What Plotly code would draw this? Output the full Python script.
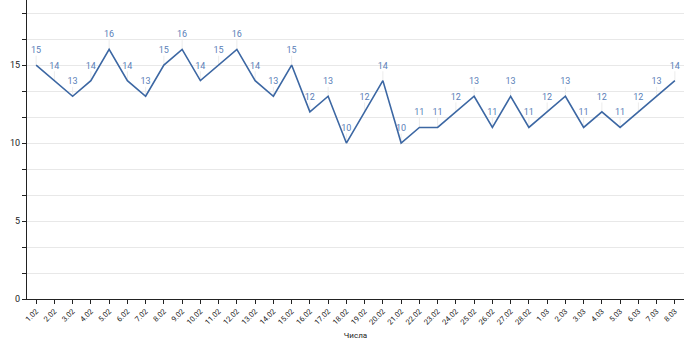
import plotly.graph_objects as go

dates = ["1.02", "2.02", "3.02", "4.02", "5.02", "6.02", "7.02", "8.02", "9.02", "10.02",
         "11.02", "12.02", "13.02", "14.02", "15.02", "16.02", "17.02", "18.02", "19.02", "20.02",
         "21.02", "22.02", "23.02", "24.02", "25.02", "26.02", "27.02", "28.02",
         "1.03", "2.03", "3.03", "4.03", "5.03", "6.03", "7.03", "8.03"]
values = [15, 14, 13, 14, 16, 14, 13, 15, 16, 14,
          15, 16, 14, 13, 15, 12, 13, 10, 12, 14,
          10, 11, 11, 12, 13, 11, 13, 11,
          12, 13, 11, 12, 11, 12, 13, 14]

y_step = 5 / 3
y_ticks = [i * y_step for i in range(12)]
y_text = [str(round(v)) if i % 3 == 0 else "" for i, v in enumerate(y_ticks)]

fig = go.Figure()
fig.add_trace(go.Scatter(
    x=list(range(len(dates))), y=values,
    mode="lines+markers+text",
    line=dict(color="#3c67a3", width=1.6),
    # transparent markers only lift the value labels off the line
    marker=dict(size=14, color="rgba(0,0,0,0)"),
    text=[str(v) for v in values],
    textposition="top center",
    textfont=dict(family="Roboto, Arial", size=9, color="#5b80b8"),
    error_y=dict(type="data", symmetric=False, array=[0.6] * len(values),
                 arrayminus=[0] * len(values), color="#ececec", thickness=1, width=0),
    hoverinfo="x+y",
))

fig.update_layout(
    width=700, height=340,
    margin=dict(l=27, r=16, t=0, b=41),
    paper_bgcolor="white", plot_bgcolor="white",
    showlegend=False,
    font=dict(family="Roboto, Arial", color="#222"),
    xaxis=dict(
        range=[-0.5, len(dates) - 0.5],
        tickmode="array", tickvals=list(range(len(dates))), ticktext=dates,
        tickangle=-45, tickfont=dict(size=7.5, color="#222"),
        ticks="outside", ticklen=4, tickcolor="#222",
        showline=True, linecolor="#222", linewidth=1,
        showgrid=False, zeroline=False,
        title=dict(text="Числа", font=dict(size=8, color="#222"), standoff=14),
        automargin=False,
    ),
    yaxis=dict(
        range=[0, 19.17],
        tickmode="array", tickvals=y_ticks, ticktext=y_text,
        tickfont=dict(size=9, color="#222"),
        ticks="outside", ticklen=4, tickcolor="#222",
        showline=True, linecolor="#222", linewidth=1.2,
        showgrid=True, gridcolor="#e8e8e8", gridwidth=1,
        zeroline=False, automargin=False,
    ),
)

fig.write_html("out.html")
